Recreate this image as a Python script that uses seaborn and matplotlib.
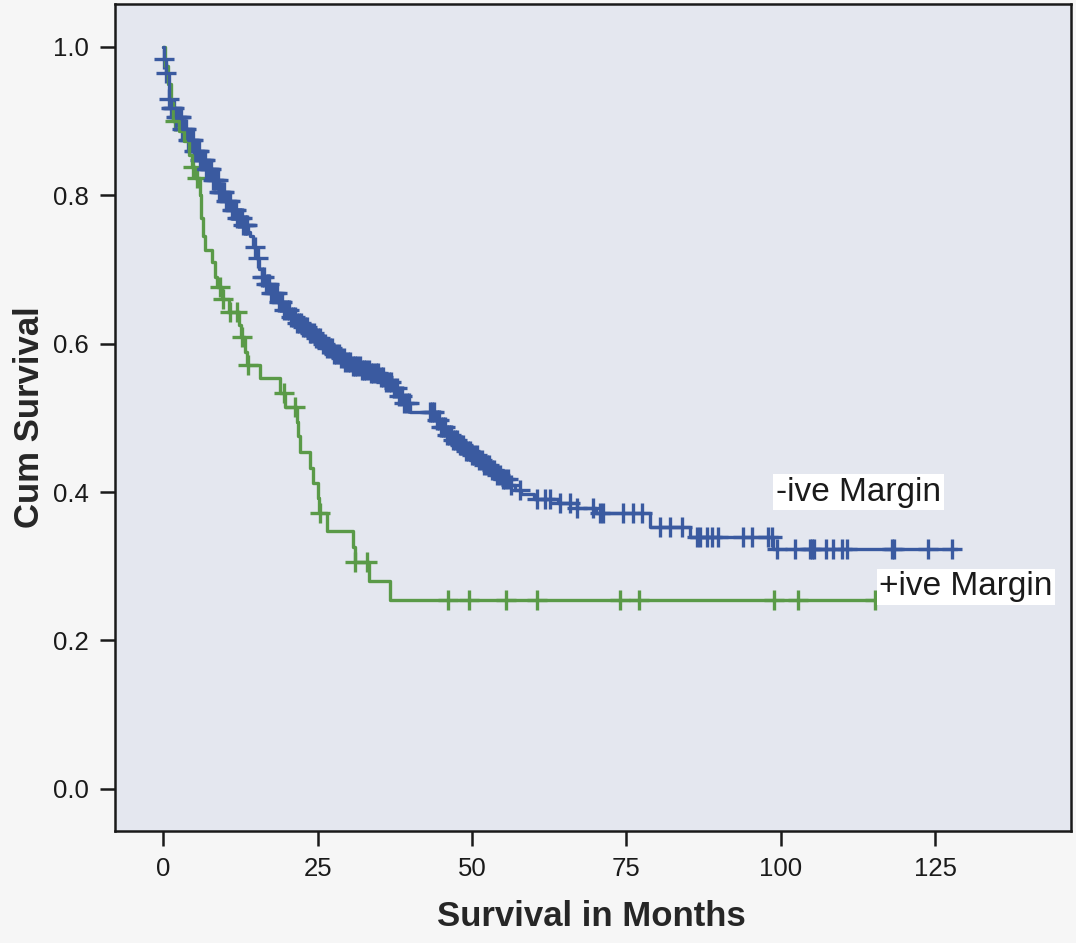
import numpy as np
import pandas as pd
import matplotlib
matplotlib.use("Agg")
import matplotlib.pyplot as plt
import seaborn as sns

# -ive margin: step times (months) and cumulative survival after each step
neg_times = [0.0, 0.1, 0.4, 0.9, 1.2, 2.0, 3.0, 4.0, 5.0, 6.0, 7.0, 8.0, 9.0, 10.0,
             11.0, 12.0, 13.0, 13.8, 14.0, 14.5, 15.0, 15.5, 16.0, 16.5, 17.5, 18.5,
             19.5, 20.5, 21.5, 22.5, 23.5, 24.5, 25.5, 26.5, 27.5, 28.5, 29.5, 30.5,
             32.0, 33.5, 35.0, 36.0, 37.0, 38.0, 39.0, 40.0, 44.0, 45.0, 46.0, 47.0,
             48.0, 49.0, 50.0, 51.0, 52.0, 53.0, 54.0, 55.0, 56.0, 57.0, 58.0, 60.0,
             64.0, 67.0, 70.0, 78.8, 85.3, 98.7]
neg_surv = [1.0, 0.984, 0.965, 0.93, 0.918, 0.905, 0.89, 0.874, 0.86, 0.848, 0.835,
            0.82, 0.805, 0.792, 0.78, 0.77, 0.76, 0.75, 0.745, 0.73, 0.715, 0.70,
            0.69, 0.68, 0.668, 0.656, 0.645, 0.636, 0.628, 0.622, 0.615, 0.608, 0.60,
            0.594, 0.586, 0.58, 0.575, 0.57, 0.565, 0.56, 0.555, 0.548, 0.54, 0.53,
            0.52, 0.508, 0.497, 0.487, 0.477, 0.47, 0.463, 0.455, 0.45, 0.443, 0.437,
            0.43, 0.423, 0.417, 0.41, 0.403, 0.397, 0.39, 0.385, 0.378, 0.372, 0.353,
            0.34, 0.323]
neg_end = 128.6
neg_censor = [0.2, 0.5, 1.0, 1.2, 1.4, 1.6, 1.8, 2.1, 2.3, 2.5, 2.7, 2.9, 3.1, 3.3,
              3.5, 3.7, 4.0, 4.2, 4.4, 4.6, 4.8, 5.0, 5.2, 5.4, 5.6, 5.8, 6.0, 6.2,
              6.4, 6.6, 6.8, 7.0, 7.2, 7.4, 7.6, 7.8, 8.0, 8.3, 8.5, 8.8, 9.0, 9.2,
              9.4, 9.7, 9.9, 10.1, 10.3, 10.6, 10.8, 11.1, 11.3, 11.6, 11.8, 12.0,
              12.2, 12.5, 12.7, 13.0, 13.2, 13.4, 13.6, 14.8, 15.3, 16.0, 16.3, 16.6,
              16.9, 17.2, 17.5, 17.8, 18.1, 18.4, 18.7, 19.0, 19.3, 19.6, 20.0, 20.3,
              20.7, 21.0, 21.3, 21.6, 22.0, 22.3, 22.7, 23.0, 23.3, 23.7, 24.0, 24.4,
              24.7, 25.0, 25.4, 25.8, 26.2, 26.6, 27.0, 27.3, 27.7, 28.0, 28.4, 28.8,
              29.2, 29.5, 29.9, 30.3, 30.7, 31.0, 31.4, 31.8, 32.2, 32.5, 32.9, 33.3,
              33.7, 34.0, 34.4, 34.8, 35.2, 35.6, 36.0, 36.5, 36.9, 37.3, 37.8, 38.2,
              38.6, 39.0, 39.4, 39.8, 43.2, 43.5, 43.9, 44.3, 44.6, 45.0, 45.3, 45.6,
              46.0, 46.3, 46.6, 47.0, 47.3, 47.6, 48.0, 48.3, 48.6, 49.0, 49.3, 49.7,
              50.0, 50.4, 50.8, 51.2, 51.6, 52.0, 52.4, 52.8, 53.2, 53.6, 54.0, 54.5,
              55.0, 55.4, 55.9, 56.3, 57.8, 60.5, 61.8, 62.6, 64.2, 65.9, 67.0, 69.6,
              70.7, 71.2, 74.4, 76.0, 77.6, 80.4, 82.0, 84.0, 86.4, 86.9, 88.0, 88.8,
              89.8, 93.9, 95.3, 97.9, 98.5, 99.4, 102.3, 104.7, 105.0, 105.3, 107.4,
              108.4, 109.9, 110.8, 118.0, 118.4, 123.8, 127.7]

# +ive margin
pos_times = [0.0, 0.3, 0.8, 1.2, 1.6, 2.6, 3.3, 4.1, 4.6, 5.2, 6.0, 6.2, 6.4, 6.8,
             7.9, 8.4, 8.7, 9.5, 10.6, 12.2, 12.6, 13.3, 13.6, 15.7, 18.9, 19.8,
             21.6, 21.8, 22.2, 23.8, 24.3, 25.0, 25.2, 26.5, 30.7, 31.0, 33.3, 36.7]
pos_surv = [1.0, 0.975, 0.95, 0.925, 0.90, 0.887, 0.873, 0.855, 0.838, 0.823, 0.80,
            0.77, 0.745, 0.726, 0.71, 0.69, 0.677, 0.66, 0.643, 0.625, 0.609, 0.589,
            0.571, 0.554, 0.534, 0.515, 0.495, 0.475, 0.454, 0.433, 0.412, 0.392,
            0.372, 0.348, 0.326, 0.305, 0.28, 0.255]
pos_end = 115.2
pos_censor = [1.9, 4.9, 5.5, 9.2, 9.7, 10.8, 12.0, 12.8, 13.8, 19.5, 21.4, 25.4,
              31.1, 33.0, 46.1, 49.5, 55.5, 60.5, 73.9, 77.0, 98.9, 102.8, 115.2]

x_ticks = [0, 25, 50, 75, 100, 125]
y_ticks = [0.0, 0.2, 0.4, 0.6, 0.8, 1.0]

neg_color = "#3a5aa0"
pos_color = "#5a9a48"

sns.set_style("ticks")
plt.rcParams["font.family"] = ["Liberation Sans", "DejaVu Sans"]

fig = plt.figure(figsize=(10.76, 9.43), dpi=100, facecolor="#f6f6f6")
ax = fig.add_axes([0.1069, 0.1188, 0.8885, 0.877])
ax.set_facecolor("#e4e7ef")


def curve(times, surv, end):
    return pd.DataFrame({"t": times + [end], "s": surv + [surv[-1]]})


def censor_points(times, surv, cens):
    idx = np.searchsorted(times, cens, side="right") - 1
    return pd.DataFrame({"t": cens, "s": np.array(surv)[idx]})


for times, surv, end, cens, col in [
    (pos_times, pos_surv, pos_end, pos_censor, pos_color),
    (neg_times, neg_surv, neg_end, neg_censor, neg_color),
]:
    sns.lineplot(data=curve(times, surv, end), x="t", y="s", ax=ax,
                 drawstyle="steps-post", estimator=None, sort=False,
                 color=col, linewidth=2.4)
    sns.scatterplot(data=censor_points(times, surv, cens), x="t", y="s", ax=ax,
                    marker="+", s=200, linewidth=2.4, color=col)

ax.text(112.6, 0.40, "-ive Margin", ha="center", va="center", fontsize=24,
        color="#1a1a1a", bbox=dict(facecolor="white", edgecolor="none", pad=2))
ax.text(130.0, 0.272, "+ive Margin", ha="center", va="center", fontsize=24,
        color="#1a1a1a", bbox=dict(facecolor="white", edgecolor="none", pad=2))

ax.set_xlim(-7.8, 147)
ax.set_ylim(-0.057, 1.058)
ax.set_xticks(x_ticks)
ax.set_yticks(y_ticks)
ax.set_yticklabels([f"{v:.1f}" for v in y_ticks])
ax.tick_params(axis="both", length=11, width=1.8, labelsize=18.5, pad=8,
               colors="#1a1a1a")
for sp in ax.spines.values():
    sp.set_linewidth(1.8)
    sp.set_color("#1a1a1a")

ax.set_xlabel("Survival in Months", fontsize=25, fontweight="bold")
ax.set_ylabel("Cum Survival", fontsize=25, fontweight="bold")
ax.xaxis.set_label_coords(0.498, -0.083)
ax.yaxis.set_label_coords(-0.072, 0.5)

fig.savefig("out.png", dpi=100, facecolor=fig.get_facecolor())
